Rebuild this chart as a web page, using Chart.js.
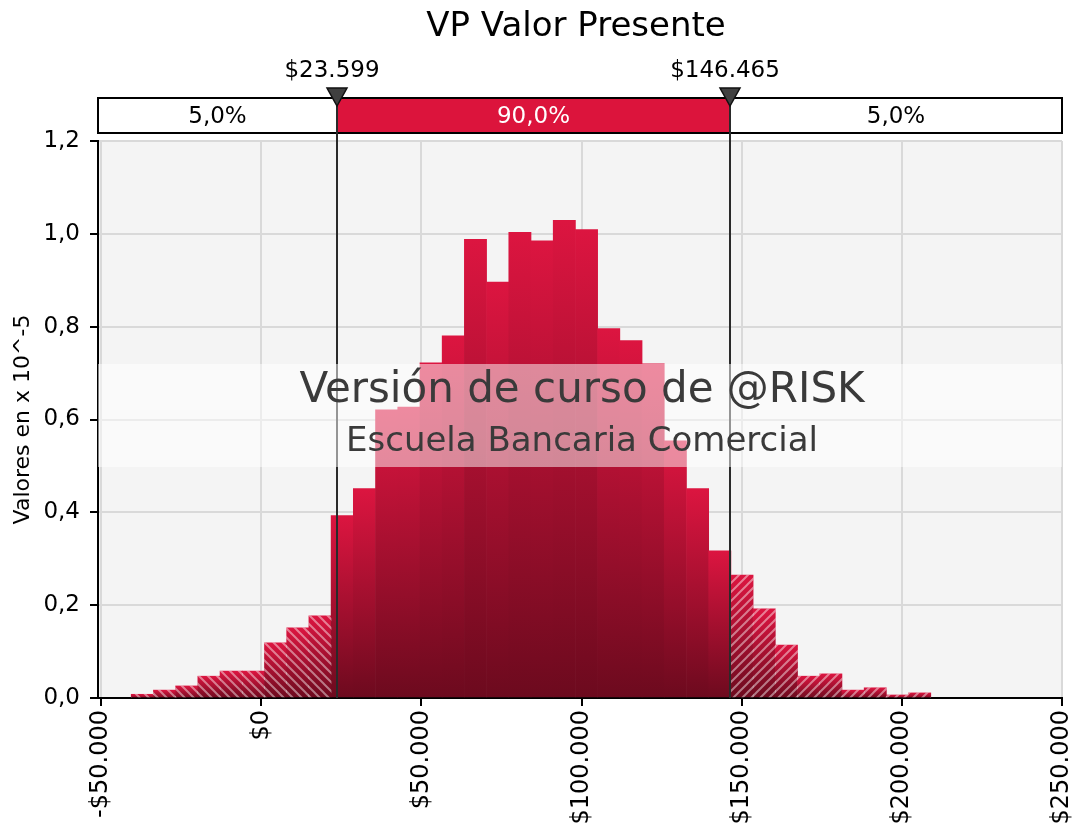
<!DOCTYPE html>
<html>
<head>
<meta charset="utf-8">
<title>VP Valor Presente</title>
<script src="https://cdn.jsdelivr.net/npm/chart.js@4.4.0/dist/chart.umd.min.js"></script>
<style>
  html, body { margin: 0; padding: 0; background: #fff; }
  #wrap { width: 1076px; height: 831px; }
</style>
</head>
<body>
<div id="wrap"><canvas id="vpChart"></canvas></div>
<script>
const FONT = "'DejaVu Sans', Verdana, sans-serif";

// centro de cada barra del histograma ($)
const binCenters = [
  -37160, -30225, -23290, -16355, -9420, -2485, 4450, 11385, 18320,
  25255, 32190, 39125, 46060, 52995, 59930, 66865, 73800, 80735,
  87670, 94605, 101540, 108475, 115410, 122345, 129280, 136215, 143150,
  150085, 157020, 163955, 170890, 177825, 184760, 191695, 198630, 205565
];
// densidad, en x 10^-5
const density = [
  0.008, 0.017, 0.026, 0.047, 0.058, 0.058, 0.119, 0.151, 0.177,
  0.393, 0.451, 0.621, 0.627, 0.722, 0.780, 0.988, 0.896, 1.003,
  0.985, 1.029, 1.009, 0.796, 0.770, 0.720, 0.554, 0.451, 0.317,
  0.265, 0.192, 0.114, 0.047, 0.052, 0.017, 0.022, 0.0065, 0.011
];
const xTicks = [-50000, 0, 50000, 100000, 150000, 200000, 250000];
const yTicks = [0, 0.2, 0.4, 0.6, 0.8, 1.0, 1.2];
const deltaValues = [23599, 146465];
const deltaLabels = ['$23.599', '$146.465'];
const bandLabels = ['5,0%', '90,0%', '5,0%'];
const watermark = ['Versión de curso de @RISK', 'Escuela Bancaria Comercial'];

function fmtMoney(v) {
  const s = String(Math.abs(Math.round(v))).replace(/\B(?=(\d{3})+(?!\d))/g, '.');
  return (v < 0 ? '-$' : '$') + s;
}

function barGradient(ctx) {
  const chart = ctx.chart;
  if (!chart.chartArea || ctx.type !== 'data' || !ctx.parsed) return '#c8123a';
  const y = chart.scales.y;
  const top = y.getPixelForValue(ctx.parsed.y);
  const base = y.getPixelForValue(0);
  const g = chart.ctx.createLinearGradient(0, top, 0, base + 1);
  g.addColorStop(0, '#dc1540');
  g.addColorStop(1, '#6c0a1e');
  return g;
}

function makeHatch(dir) {
  const s = 9;
  const c = document.createElement('canvas');
  c.width = s; c.height = s;
  const g = c.getContext('2d');
  g.strokeStyle = 'rgba(255,255,255,0.45)';
  g.lineWidth = 2;
  g.beginPath();
  if (dir > 0) {
    g.moveTo(0, s); g.lineTo(s, 0);
    g.moveTo(-2, 2); g.lineTo(2, -2);
    g.moveTo(s - 2, s + 2); g.lineTo(s + 2, s - 2);
  } else {
    g.moveTo(0, 0); g.lineTo(s, s);
    g.moveTo(-2, s - 2); g.lineTo(2, s + 2);
    g.moveTo(s - 2, -2); g.lineTo(s + 2, 2);
  }
  g.stroke();
  return document.createElement('canvas').getContext('2d').createPattern(c, 'repeat');
}
const hatchLeft = makeHatch(-1);
const hatchRight = makeHatch(1);

const mainData = binCenters.map((x, i) => ({ x: x, y: density[i] }));
const leftTail = binCenters.map((x, i) => ({ x: x, y: x < deltaValues[0] ? density[i] : null }));
const rightTail = binCenters.map((x, i) => ({ x: x, y: x > deltaValues[1] ? density[i] : null }));

const decorPlugin = {
  id: 'decor',
  beforeDraw(chart) {
    const { ctx, chartArea: a } = chart;
    ctx.save();
    ctx.fillStyle = '#f4f4f4';
    ctx.fillRect(a.left, a.top, a.right - a.left, a.bottom - a.top);
    ctx.restore();
  },
  afterDraw(chart) {
    const { ctx, chartArea: a, scales } = chart;
    const xs = deltaValues.map(v => Math.round(scales.x.getPixelForValue(v)));
    const barTop = 98, barBot = 133;
    const cx = (a.left + a.right) / 2;
    ctx.save();

    // titulo
    ctx.fillStyle = '#000';
    ctx.font = '34px ' + FONT;
    ctx.textAlign = 'center';
    ctx.textBaseline = 'middle';
    ctx.fillText('VP Valor Presente', cx - 4, 27);

    // barra de percentiles
    ctx.fillStyle = '#fff';
    ctx.fillRect(a.left, barTop, a.right - a.left, barBot - barTop);
    ctx.fillStyle = '#dc143c';
    ctx.fillRect(xs[0], barTop, xs[1] - xs[0], barBot - barTop);
    ctx.strokeStyle = '#000';
    ctx.lineWidth = 2;
    ctx.strokeRect(a.left, barTop, a.right - a.left, barBot - barTop);

    ctx.font = '23px ' + FONT;
    const mids = [(a.left + xs[0]) / 2, (xs[0] + xs[1]) / 2, (xs[1] + a.right) / 2];
    bandLabels.forEach((t, i) => {
      ctx.fillStyle = i === 1 ? '#fff' : '#000';
      ctx.fillText(t, mids[i], 117);
    });

    // lineas delimitadoras
    ctx.strokeStyle = '#2a2a2a';
    ctx.lineWidth = 2;
    xs.forEach(x => {
      ctx.beginPath();
      ctx.moveTo(x, barTop);
      ctx.lineTo(x, a.bottom);
      ctx.stroke();
    });

    // marcadores
    ctx.font = '23px ' + FONT;
    xs.forEach((x, i) => {
      ctx.fillStyle = '#404040';
      ctx.strokeStyle = '#111';
      ctx.lineWidth = 1.5;
      ctx.beginPath();
      ctx.moveTo(x - 10, 88);
      ctx.lineTo(x + 10, 88);
      ctx.lineTo(x, 106);
      ctx.closePath();
      ctx.fill();
      ctx.stroke();
      ctx.fillStyle = '#000';
      ctx.fillText(deltaLabels[i], x - 5, 71);
    });

    // marca de agua
    ctx.fillStyle = 'rgba(255,255,255,0.5)';
    ctx.fillRect(a.left, 364, a.right - a.left, 103);
    ctx.fillStyle = '#3a3a3a';
    ctx.font = '42px ' + FONT;
    ctx.fillText(watermark[0], 582, 391);
    ctx.font = '34px ' + FONT;
    ctx.fillText(watermark[1], 582, 442);
    ctx.restore();
  }
};

const ctx = document.getElementById('vpChart').getContext('2d');
const vpChart = new Chart(ctx, {
  type: 'bar',
  data: {
    datasets: [
      { label: 'VP', data: mainData, backgroundColor: barGradient, borderWidth: 0,
        barPercentage: 1, categoryPercentage: 1, grouped: false, order: 2 },
      { label: 'cola izq', data: leftTail, backgroundColor: hatchLeft, borderWidth: 0,
        barPercentage: 1, categoryPercentage: 1, grouped: false, order: 1 },
      { label: 'cola der', data: rightTail, backgroundColor: hatchRight, borderWidth: 0,
        barPercentage: 1, categoryPercentage: 1, grouped: false, order: 1 }
    ]
  },
  options: {
    responsive: true,
    maintainAspectRatio: false,
    animation: false,
    layout: { padding: { top: 141, right: 14, left: 0, bottom: 0 } },
    plugins: { legend: { display: false }, tooltip: { enabled: false } },
    scales: {
      x: {
        type: 'linear',
        min: -51000,
        max: xTicks[xTicks.length - 1],
        offset: false,
        afterBuildTicks: s => { s.ticks = xTicks.map(v => ({ value: v })); },
        afterFit: s => { s.height = 133; s.paddingLeft = 0; s.paddingRight = 0; },
        grid: { offset: false, color: '#d9d9d9', lineWidth: 2, tickColor: '#000', tickLength: 8, tickWidth: 2 },
        border: { color: '#000', width: 2 },
        ticks: {
          minRotation: 90, maxRotation: 90, autoSkip: false, padding: 4,
          color: '#000', font: { family: FONT, size: 24 },
          callback: v => fmtMoney(v)
        }
      },
      y: {
        min: yTicks[0],
        max: yTicks[yTicks.length - 1],
        afterBuildTicks: s => { s.ticks = yTicks.map(v => ({ value: v })); },
        afterFit: s => { s.width = 98; s.paddingTop = 0; s.paddingBottom = 0; },
        grid: { color: '#d9d9d9', lineWidth: 2, tickColor: '#000', tickLength: 8, tickWidth: 2 },
        border: { color: '#000', width: 2 },
        title: {
          display: true, text: 'Valores en x 10^-5', color: '#000',
          font: { family: FONT, size: 22 }, padding: { top: 10, bottom: 0 }
        },
        ticks: {
          padding: 10, color: '#000', font: { family: FONT, size: 23 },
          callback: v => v.toFixed(1).replace('.', ',')
        }
      }
    }
  },
  plugins: [decorPlugin]
});
</script>
</body>
</html>
